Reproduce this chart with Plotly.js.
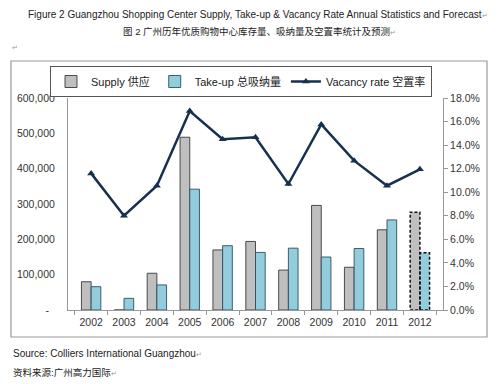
<!DOCTYPE html>
<html><head><meta charset="utf-8">
<script src="https://cdn.plot.ly/plotly-3.0.1.min.js"></script>
<style>html,body{margin:0;padding:0;background:#fff;}#chart{width:500px;height:384px;}</style>
</head><body><div id="chart"></div>
<script>
var years = ['2002','2003','2004','2005','2006','2007','2008','2009','2010','2011','2012'];
var supply = [80000, 0, 104000, 489000, 170000, 194000, 113000, 296000, 121000, 227000, 277000];
var takeup = [66000, 33000, 71000, 342000, 182000, 163000, 175000, 150000, 174000, 255000, 162000];
var vacancy = [11.6, 8.0, 10.55, 16.9, 14.5, 14.66, 10.7, 15.76, 12.68, 10.55, 11.94];
var leftTicks = [0, 100000, 200000, 300000, 400000, 500000, 600000];
var leftTickText = ['-\u00a0\u00a0', '100,000', '200,000', '300,000', '400,000', '500,000', '600,000'];
var forecastIndex = 10;

var L = 68, R = 443, T = 98, B = 310;
function px(x){ return (x - L) / (R - L); }
function py(y){ return (B - y) / (B - T); }

var lineW = years.map(function(_, i){ return i === forecastIndex ? 0 : 0.9; });
var bargap = 0.41;
var bw = (1 - bargap) / 2;

var font = 'Liberation Sans, Arial, sans-serif';
var cjk = 'Liberation Sans, Arial, "Noto Sans CJK SC", sans-serif';

var traces = [
  {type:'bar', name:'Supply 供应', x:years, y:supply,
   marker:{color:'#bfbfbf', line:{color:'#3a3a3a', width:lineW}}},
  {type:'bar', name:'Take-up 总吸纳量', x:years, y:takeup,
   marker:{color:'#93cddd', line:{color:'#2f4f5a', width:lineW}}},
  {type:'scatter', mode:'lines+markers', name:'Vacancy rate 空置率', x:years, y:vacancy, yaxis:'y2',
   line:{color:'#17304f', width:2.5}, marker:{symbol:'triangle-up', size:7, color:'#17304f'}}
];

var shapes = [
  {type:'rect', xref:'paper', yref:'paper', x0:px(11), x1:px(487), y0:py(337), y1:py(61),
   line:{color:'#9a9a9a', width:1.2}, fillcolor:'rgba(0,0,0,0)', layer:'below'},
  {type:'rect', xref:'x', yref:'y', x0:forecastIndex - bw, x1:forecastIndex, y0:0, y1:supply[forecastIndex],
   line:{color:'#111', width:1.5, dash:'3px,2px'}},
  {type:'rect', xref:'x', yref:'y', x0:forecastIndex, x1:forecastIndex + bw, y0:0, y1:takeup[forecastIndex],
   line:{color:'#111', width:1.5, dash:'3px,2px'}}
];

var annotations = [
  {xref:'paper', yref:'paper', x:px(258), y:py(15), text:'Figure 2 Guangzhou Shopping Center Supply, Take-up &amp; Vacancy Rate Annual Statistics and Forecast<span style="font-size:7px;color:#999">↵</span>',
   showarrow:false, font:{family:font, size:10, color:'#222'}, xanchor:'center', yanchor:'middle'},
  {xref:'paper', yref:'paper', x:px(259), y:py(32), text:'图 2 广州历年优质购物中心库存量、吸纳量及空置率统计及预测<span style="font-size:7px;color:#999">↵</span>',
   showarrow:false, font:{family:cjk, size:9.5, color:'#222'}, xanchor:'center', yanchor:'middle'},
  {xref:'paper', yref:'paper', x:px(10), y:py(48), text:'↵', showarrow:false,
   font:{family:font, size:7, color:'#999'}, xanchor:'left', yanchor:'middle'},
  {xref:'paper', yref:'paper', x:px(11), y:py(353), text:'Source: Colliers International Guangzhou<span style="font-size:7px;color:#999">↵</span>',
   showarrow:false, font:{family:font, size:10, color:'#222'}, xanchor:'left', yanchor:'middle'},
  {xref:'paper', yref:'paper', x:px(11), y:py(372), text:'资料来源:广州高力国际<span style="font-size:7px;color:#999">↵</span>',
   showarrow:false, font:{family:cjk, size:9.5, color:'#222'}, xanchor:'left', yanchor:'middle'}
];

var layout = {
  width:500, height:384,
  margin:{l:L, r:500-R, t:T, b:384-B, pad:0, autoexpand:false},
  paper_bgcolor:'#fff', plot_bgcolor:'#fff',
  barmode:'group', bargap:bargap, bargroupgap:0,
  showlegend:true,
  legend:{orientation:'h', x:px(50), xanchor:'left', y:py(66), yanchor:'top',
          bordercolor:'#555', borderwidth:1, bgcolor:'#fff', itemwidth:30,
          font:{family:cjk, size:11, color:'#222'}, traceorder:'normal'},
  xaxis:{type:'category', tickson:'boundaries', ticks:'outside', ticklen:4, tickcolor:'#999',
         showline:true, linecolor:'#999', linewidth:1, showgrid:false, zeroline:false,
         tickfont:{family:font, size:10.5, color:'#333'}, ticklabelstandoff:2},
  yaxis:{range:[0, 600000], tickvals:leftTicks, ticktext:leftTickText, showline:true, linecolor:'#999',
         ticks:'', showgrid:false, zeroline:false,
         tickfont:{family:font, size:10.5, color:'#333'}, ticklabelstandoff:10},
  yaxis2:{range:[0, 18], dtick:2, tickformat:'.1f', ticksuffix:'%', overlaying:'y', side:'right',
          showline:true, linecolor:'#999', ticks:'outside', ticklen:4, tickcolor:'#999',
          showgrid:false, zeroline:false, tickfont:{family:font, size:10.5, color:'#333'}},
  shapes:shapes, annotations:annotations
};

Plotly.newPlot('chart', traces, layout, {staticPlot:true, displayModeBar:false});
</script>
</body></html>
